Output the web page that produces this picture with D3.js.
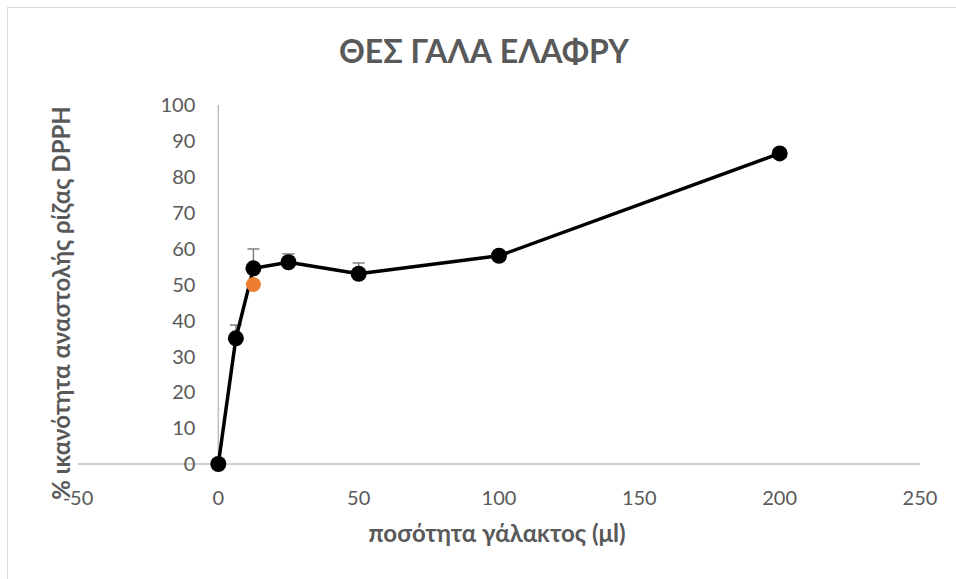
<!DOCTYPE html>
<html>
<head>
<meta charset="utf-8">
<script src="https://cdn.jsdelivr.net/npm/d3@7"></script>
<style>
  html, body { margin: 0; padding: 0; background: #fff; }
  svg { display: block; }
  text { font-family: Lato, "Open Sans", sans-serif; }
</style>
</head>
<body>
<div id="chart"></div>
<script>
// ---- Data ----
const xValues = [0, 6.25, 12.5, 25, 50, 100, 200];
const yValues = [0, 35, 54.5, 56.2, 53, 58, 86.5];
const yErrors = [0, 3.7, 5.4, 2.3, 3, 0, 0];
const extraX = [12.5];
const extraY = [50];
const xTicks = [-50, 0, 50, 100, 150, 200, 250];
const yTicks = [0, 10, 20, 30, 40, 50, 60, 70, 80, 90, 100];
const title = "ΘΕΣ ΓΑΛΑ ΕΛΑΦΡΥ";
const xTitle = "ποσότητα γάλακτος (μl)";
const yTitle = "% ικανότητα αναστολής ρίζας DPPH";

// ---- Layout ----
const W = 956, H = 579;
const plot = { left: 78, right: 920, top: 105, bottom: 464 };

const svg = d3.select("#chart").append("svg").attr("width", W).attr("height", H);

svg.append("rect").attr("x", 7.5).attr("y", 7.5).attr("width", W + 20).attr("height", H + 20)
  .attr("fill", "#fff").attr("stroke", "#d9d9d9").attr("stroke-width", 1);

const x = d3.scaleLinear().domain([-50, 250]).range([plot.left, plot.right]);
const y = d3.scaleLinear().domain([0, 100]).range([plot.bottom, plot.top]);

const textColor = "#595959";

// Horizontal axis line at y=0
svg.append("line").attr("x1", x(-50)).attr("x2", x(250))
  .attr("y1", y(0)).attr("y2", y(0)).attr("stroke", "#bfbfbf").attr("stroke-width", 1.5);
// Vertical axis line at x=0
svg.append("line").attr("x1", x(0)).attr("x2", x(0))
  .attr("y1", y(0)).attr("y2", y(100)).attr("stroke", "#bfbfbf").attr("stroke-width", 1.5);

// Y tick labels
svg.append("g").selectAll("text").data(yTicks).join("text")
  .attr("x", x(0) - 23).attr("y", d => y(d)).attr("dy", "0.36em")
  .attr("text-anchor", "end").attr("font-size", 20).attr("fill", textColor)
  .text(d => d);

// X tick labels
svg.append("g").selectAll("text").data(xTicks).join("text")
  .attr("x", d => x(d)).attr("y", 505)
  .attr("text-anchor", "middle").attr("font-size", 20).attr("fill", textColor)
  .text(d => d < 0 ? "-" + Math.abs(d) : d);

// Error bars (plus direction only)
const pts = xValues.map((xv, i) => ({ x: xv, y: yValues[i], e: yErrors[i] }));
const eb = svg.append("g").attr("stroke", "#808080").attr("stroke-width", 1.5);
pts.filter(d => d.e > 0).forEach(d => {
  eb.append("line").attr("x1", x(d.x)).attr("x2", x(d.x)).attr("y1", y(d.y)).attr("y2", y(d.y + d.e));
  eb.append("line").attr("x1", x(d.x) - 6).attr("x2", x(d.x) + 6).attr("y1", y(d.y + d.e)).attr("y2", y(d.y + d.e));
});

// Line
svg.append("path").datum(pts)
  .attr("d", d3.line().x(d => x(d.x)).y(d => y(d.y)))
  .attr("fill", "none").attr("stroke", "#000").attr("stroke-width", 3.5).attr("stroke-linejoin", "round");

// Markers
svg.append("g").selectAll("circle").data(pts).join("circle")
  .attr("cx", d => x(d.x)).attr("cy", d => y(d.y)).attr("r", 8).attr("fill", "#000");

// Extra orange point
svg.append("g").selectAll("circle").data(extraX.map((v, i) => ({ x: v, y: extraY[i] }))).join("circle")
  .attr("cx", d => x(d.x)).attr("cy", d => y(d.y)).attr("r", 7.5).attr("fill", "#ED7D31");

// Title
svg.append("text").attr("x", 484).attr("y", 63).attr("text-anchor", "middle")
  .attr("font-size", 32).attr("font-weight", "bold").attr("fill", textColor).text(title);

// Axis titles
svg.append("text").attr("x", 497).attr("y", 542).attr("text-anchor", "middle")
  .attr("font-size", 24).attr("font-weight", "bold").attr("fill", textColor).text(xTitle);

svg.append("text").attr("transform", "translate(70,303) rotate(-90)").attr("text-anchor", "middle")
  .attr("font-size", 24).attr("font-weight", "bold").attr("fill", textColor).text(yTitle);
</script>
</body>
</html>
